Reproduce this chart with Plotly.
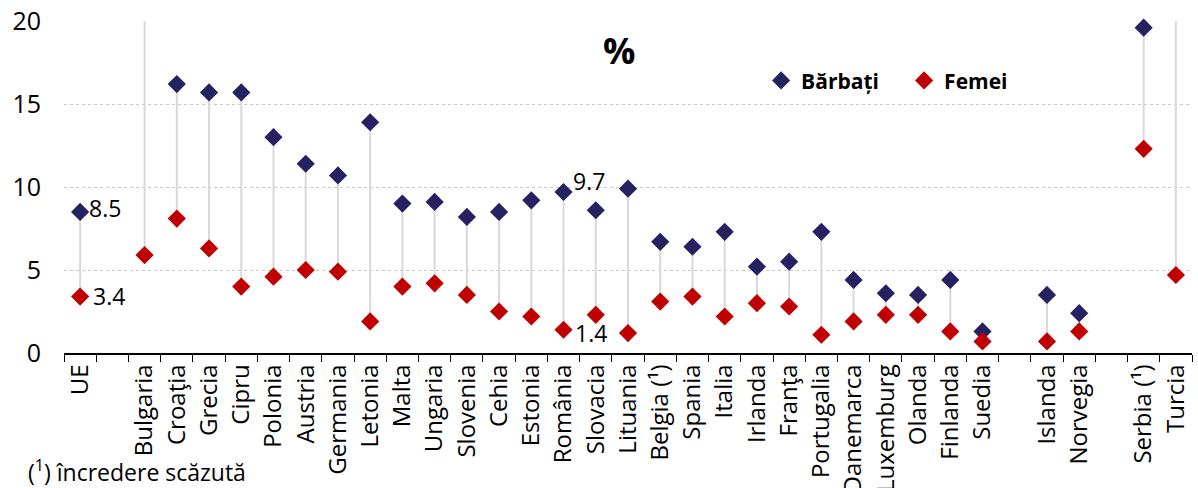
import plotly.graph_objects as go

# Categories along the x axis (blank entries are spacer slots)
countries = ["UE", "", "Bulgaria", "Croaţia", "Grecia", "Cipru", "Polonia", "Austria",
             "Germania", "Letonia", "Malta", "Ungaria", "Slovenia", "Cehia", "Estonia",
             "România", "Slovacia", "Lituania", "Belgia (¹)", "Spania", "Italia",
             "Irlanda", "Franţa", "Portugalia", "Danemarca", "Luxemburg", "Olanda",
             "Finlanda", "Suedia", "", "Islanda", "Norvegia", "", "Serbia (¹)", "Turcia"]

barbati = [8.5, None, None, 16.2, 15.7, 15.7, 13.0, 11.4, 10.7, 13.9, 9.0, 9.1, 8.2,
           8.5, 9.2, 9.7, 8.6, 9.9, 6.7, 6.4, 7.3, 5.2, 5.5, 7.3, 4.4, 3.6, 3.5, 4.4,
           1.3, None, 3.5, 2.4, None, 19.6, None]

femei = [3.4, None, 5.9, 8.1, 6.3, 4.0, 4.6, 5.0, 4.9, 1.9, 4.0, 4.2, 3.5, 2.5, 2.2,
         1.4, 2.3, 1.2, 3.1, 3.4, 2.2, 3.0, 2.8, 1.1, 1.9, 2.3, 2.3, 1.3, 0.7, None,
         0.7, 1.3, None, 12.3, 4.7]

y_ticks = [0, 5, 10, 15, 20]
Y_MAX = 20

FONT = "'Open Sans', 'Noto Sans', sans-serif"
NAVY = "#262262"
RED = "#C00000"

xs = list(range(len(countries)))

# connector lines between the two values of each country
stem_x, stem_y = [], []
for i, (m, f) in enumerate(zip(barbati, femei)):
    if m is None and f is None:
        continue
    top = m if m is not None else Y_MAX
    bottom = f if f is not None else m
    stem_x += [i, i, None]
    stem_y += [top, bottom, None]

fig = go.Figure()
fig.add_trace(go.Scatter(x=stem_x, y=stem_y, mode="lines",
                         line=dict(color="#d9d9d9", width=2),
                         hoverinfo="skip", showlegend=False, cliponaxis=False))
fig.add_trace(go.Scatter(x=xs, y=barbati, mode="markers", name="Bărbați",
                         marker=dict(symbol="diamond", size=14, color=NAVY),
                         cliponaxis=False))
fig.add_trace(go.Scatter(x=xs, y=femei, mode="markers", name="Femei",
                         marker=dict(symbol="diamond", size=14, color=RED),
                         cliponaxis=False))

# value labels for EU and Romania
ann = []
i_ue = countries.index("UE")
i_ro = countries.index("România")
for x, y, xs_, ys_ in [(i_ue, barbati[i_ue], 7, 4), (i_ue, femei[i_ue], 11, 1),
                       (i_ro, barbati[i_ro], 7, 11), (i_ro, femei[i_ro], 9, -3)]:
    ann.append(dict(x=x, y=y, xref="x", yref="y", text=f"{y:.1f}", showarrow=False,
                    xanchor="left", yanchor="middle", xshift=xs_, yshift=ys_,
                    font=dict(family=FONT, size=23, color="#000000")))

ann.append(dict(x=0.492, y=0.91, xref="paper", yref="paper", text="<b>%</b>",
                showarrow=False, font=dict(family=FONT, size=36, color="#000000"),
                xanchor="center", yanchor="middle"))
ann.append(dict(x=0, y=0, xref="paper", yref="paper", xanchor="left", yanchor="top",
                text="(<sup>1</sup>) încredere scăzută", showarrow=False,
                font=dict(family=FONT, size=23, color="#000000"),
                xshift=-38, yshift=-99))

fig.update_layout(
    width=1198, height=488,
    margin=dict(l=64, r=6, t=21, b=135),
    paper_bgcolor="white", plot_bgcolor="white",
    font=dict(family=FONT, size=23, color="#000000"),
    showlegend=True,
    legend=dict(orientation="h", x=0.618, y=0.82, xanchor="left", yanchor="middle",
                font=dict(family=FONT, size=21, color="#000000", weight="bold"),
                bgcolor="rgba(0,0,0,0)", entrywidth=98, itemwidth=30),
    annotations=ann,
    xaxis=dict(range=[-0.5, len(countries) - 0.5], tickvals=xs, ticktext=countries,
               tickangle=-90, ticks="", showgrid=False, zeroline=False,
               showline=True, linecolor="#000000", linewidth=1.5, automargin=False,
               tickfont=dict(family=FONT, size=24),
               minor=dict(tickvals=[i - 0.5 for i in range(len(countries) + 1)],
                          ticks="outside", ticklen=7, tickcolor="#000000",
                          tickwidth=1.2, showgrid=False)),
    yaxis=dict(range=[0, Y_MAX], tickvals=y_ticks, showgrid=True,
               gridcolor="#c8c8c8", griddash="dot", gridwidth=1, zeroline=False,
               showline=False, ticks="", automargin=False,
               tickfont=dict(family=FONT, size=25), ticklabelstandoff=22),
)

fig.write_html("out.html")
